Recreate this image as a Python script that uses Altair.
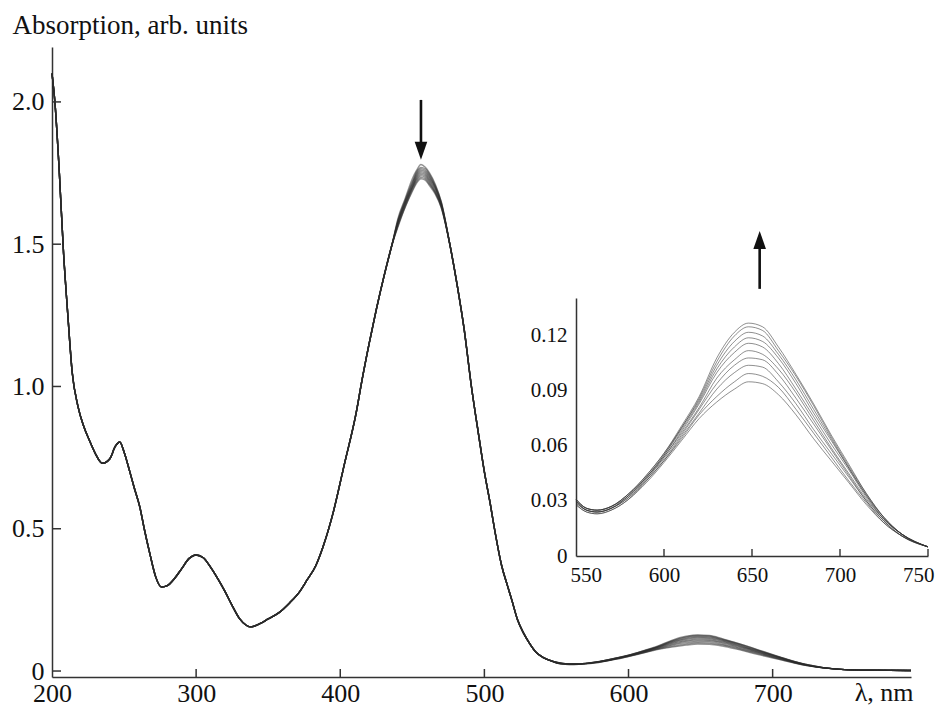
import altair as alt
import pandas as pd

# ---------------- data ----------------
# part of the spectrum where all curves coincide
wl_uv = [200, 202, 205, 208, 211, 214, 218, 222, 226, 230, 235, 240, 244, 247, 250,
         254, 257, 261, 264, 268, 272, 276, 280, 285, 290, 295, 300, 305, 310, 315, 320,
         325, 330, 335, 338, 345, 350, 358, 365, 372, 377, 383, 388, 395, 403, 411,
         415, 420, 425, 430, 436]
abs_uv = [2.10, 2.00, 1.76, 1.47, 1.25, 1.05, 0.93, 0.86, 0.81, 0.765, 0.73, 0.745, 0.79, 0.805, 0.77,
          0.70, 0.645, 0.575, 0.50, 0.41, 0.33, 0.295, 0.30, 0.325, 0.36, 0.395, 0.408, 0.398, 0.365, 0.325, 0.28,
          0.23, 0.185, 0.16, 0.155, 0.168, 0.183, 0.207, 0.24, 0.28, 0.32, 0.37, 0.436, 0.555, 0.73, 0.906,
          1.02, 1.15, 1.27, 1.38, 1.50]

wl_fall = [476, 481, 486, 491, 496, 500, 504, 507, 512, 516, 519, 523, 527, 531, 536, 541, 545]
abs_fall = [1.50, 1.36, 1.20, 1.00, 0.83, 0.70, 0.59, 0.50, 0.37, 0.30, 0.25, 0.18, 0.135, 0.10,
            0.065, 0.047, 0.038]

# main band maximum, one list per spectrum (decreasing in time)
wl_peak = [440, 445, 450, 453, 456, 459, 462, 466, 470]
peak_curves = [
    [1.590, 1.660, 1.730, 1.760, 1.780, 1.770, 1.750, 1.710, 1.650],
    [1.585, 1.655, 1.720, 1.755, 1.770, 1.765, 1.745, 1.705, 1.650],
    [1.580, 1.650, 1.715, 1.750, 1.765, 1.760, 1.740, 1.700, 1.645],
    [1.580, 1.650, 1.710, 1.745, 1.760, 1.755, 1.735, 1.700, 1.645],
    [1.575, 1.645, 1.705, 1.740, 1.755, 1.750, 1.730, 1.695, 1.640],
    [1.575, 1.640, 1.700, 1.735, 1.750, 1.745, 1.725, 1.690, 1.640],
    [1.570, 1.640, 1.700, 1.730, 1.745, 1.740, 1.720, 1.685, 1.635],
    [1.565, 1.635, 1.695, 1.725, 1.740, 1.735, 1.715, 1.680, 1.635],
    [1.565, 1.630, 1.690, 1.720, 1.735, 1.730, 1.710, 1.680, 1.630],
    [1.560, 1.630, 1.685, 1.715, 1.730, 1.725, 1.705, 1.675, 1.630],
]

# long-wavelength band, one list per spectrum (increasing in time)
wl_band = [550, 556, 562, 570, 580, 590, 600, 610, 620, 630, 640, 648, 656, 665,
           675, 685, 695, 705, 715, 725, 735, 750, 770, 796]
band_curves = [
    [.028, .024, .023, .025, .031, .040, .051, .063, .075, .084, .091, .095, .094, .088, .077, .064, .052, .040, .028, .018, .011, .005, .003, .002],
    [.028, .024, .023, .025, .031, .041, .052, .064, .077, .087, .095, .0995, .098, .092, .080, .067, .054, .041, .029, .018, .011, .005, .003, .002],
    [.029, .025, .024, .026, .032, .041, .052, .065, .078, .091, .100, .104, .103, .095, .083, .069, .056, .043, .030, .019, .011, .005, .003, .002],
    [.029, .025, .024, .026, .032, .042, .053, .066, .080, .094, .104, .108, .107, .099, .086, .072, .058, .044, .030, .019, .011, .005, .003, .002],
    [.030, .025, .024, .026, .033, .042, .054, .067, .081, .097, .107, .112, .110, .102, .089, .074, .059, .045, .031, .020, .012, .005, .003, .002],
    [.030, .025, .024, .026, .033, .043, .054, .068, .083, .100, .111, .116, .114, .105, .091, .076, .061, .047, .032, .020, .012, .005, .003, .002],
    [.030, .026, .025, .027, .033, .043, .055, .069, .084, .102, .114, .119, .117, .108, .094, .078, .063, .048, .033, .020, .012, .005, .003, .002],
    [.031, .026, .025, .027, .034, .043, .055, .070, .085, .104, .117, .122, .120, .110, .096, .080, .064, .048, .033, .021, .012, .005, .003, .002],
    [.031, .026, .025, .027, .034, .044, .056, .070, .086, .106, .120, .125, .123, .112, .098, .082, .065, .049, .034, .021, .012, .005, .003, .002],
    [.031, .026, .025, .027, .034, .044, .056, .071, .087, .108, .122, .127, .125, .114, .099, .083, .066, .050, .034, .021, .012, .005, .003, .002],
]

main_x_ticks = [200, 300, 400, 500, 600, 700]
main_y_ticks = [0, 0.5, 1.0, 1.5, 2.0]
inset_x_ticks = [550, 600, 650, 700, 750]
inset_y_ticks = [0, 0.03, 0.06, 0.09, 0.12]

# arrows (down: main band decreases, up: long-wavelength band increases)
arrow_wl = [456, 691]
arrow_start = [2.007, 1.343]
arrow_end = [1.845, 1.50]
arrow_head = [1.828, 1.515]

# ---------------- tables ----------------
rows = []
for i in range(len(band_curves)):
    for w, a in zip(wl_uv, abs_uv):
        rows.append((i, w, a))
    for w, a in zip(wl_peak, peak_curves[i]):
        rows.append((i, w, a))
    for w, a in zip(wl_fall, abs_fall):
        rows.append((i, w, a))
    for w, a in zip(wl_band, band_curves[i]):
        rows.append((i, w, a))
df_main = pd.DataFrame(rows, columns=["curve", "wl", "a"])
df_inset = df_main[(df_main.wl >= 550) & (df_main.wl <= 750)]

FONT = "Liberation Serif"
W, H = 859, 630

xs = alt.Scale(domain=[200, 796], nice=False, zero=False)
ys = alt.Scale(domain=[-0.021, 2.193], nice=False, zero=False)
ixs = alt.Scale(domain=[550, 750], range=[524, 876], nice=False, zero=False)
iys = alt.Scale(domain=[0, 0.1407], range=[509, 251], nice=False, zero=False)

ax_x = alt.Axis(
    values=main_x_ticks, ticks=False, tickSize=0, labelPadding=3, labelFontSize=26,
    labelFlush=False, title="λ, nm", titleX=861, titleY=23, titleAlign="right",
    titleBaseline="alphabetic", titleFontSize=26, titleFontWeight="normal")
ax_y = alt.Axis(
    values=main_y_ticks, ticks=False, tickSize=0, labelPadding=8, labelFontSize=26,
    labelFlush=False, labelExpr="datum.value == 0 ? '0' : format(datum.value, '.1f')",
    title="Absorption, arb. units", titleAngle=0, titleX=-40, titleY=-14,
    titleAlign="left", titleBaseline="alphabetic", titleFontSize=27,
    titleFontWeight="normal")
ax_ix = alt.Axis(
    orient="bottom", offset=-121, values=inset_x_ticks, ticks=False, tickSize=0,
    labelPadding=8, labelFontSize=21, labelFlush=True, labelFlushOffset=6, title="")
ax_iy = alt.Axis(
    orient="left", offset=-524, values=inset_y_ticks, ticks=False, tickSize=0,
    labelPadding=9, labelFontSize=21, labelFlush=False,
    labelExpr="datum.value == 0 ? '0' : format(datum.value, '.2f')", title="")

X = lambda f: alt.X(f, scale=xs, axis=ax_x)
Y = lambda f: alt.Y(f, scale=ys, axis=ax_y)

main_lines = alt.Chart(df_main).mark_line(
    color="#2a2a2a", strokeWidth=1.4, opacity=0.5, interpolate="monotone").encode(
    x=X("wl:Q"), y=Y("a:Q"), detail="curve:N")

main_xt = alt.Chart(pd.DataFrame({"wl": main_x_ticks[1:]})).mark_rule(
    color="#333", strokeWidth=1.5).encode(x=X("wl:Q"), y=alt.value(H), y2=alt.value(H - 8))
main_yt = alt.Chart(pd.DataFrame({"a": main_y_ticks})).mark_rule(
    color="#333", strokeWidth=1.5).encode(y=Y("a:Q"), x=alt.value(0), x2=alt.value(9))

adf = pd.DataFrame({"wl": arrow_wl, "a": arrow_start, "a2": arrow_end, "h": arrow_head})
shafts = alt.Chart(adf).mark_rule(color="#111", strokeWidth=2.6).encode(
    x=X("wl:Q"), y=Y("a:Q"), y2="a2:Q")
head_down = alt.Chart(adf.iloc[[0]]).mark_point(
    shape="M-0.7,-1L0.7,-1L0,1Z", filled=True, size=324, color="#111", opacity=1,
    strokeWidth=0).encode(x=X("wl:Q"), y=Y("h:Q"))
head_up = alt.Chart(adf.iloc[[1]]).mark_point(
    shape="M-0.7,1L0.7,1L0,-1Z", filled=True, size=324, color="#111", opacity=1,
    strokeWidth=0).encode(x=X("wl:Q"), y=Y("h:Q"))

main = alt.layer(main_lines, main_xt, main_yt, shafts, head_down, head_up)

inset_lines = alt.Chart(df_inset).mark_line(
    color="#333", strokeWidth=1.0, opacity=0.55, interpolate="monotone").encode(
    x=alt.X("wl:Q", scale=ixs, axis=ax_ix),
    y=alt.Y("a:Q", scale=iys, axis=ax_iy),
    detail="curve:N")
inset_xt = alt.Chart(pd.DataFrame({"wl": inset_x_ticks[1:]})).mark_rule(
    color="#333", strokeWidth=1.4).encode(
    x=alt.X("wl:Q", scale=ixs, axis=ax_ix), y=alt.value(509), y2=alt.value(502))

inset = alt.layer(inset_lines, inset_xt)

chart = alt.layer(main, inset).resolve_scale(x="independent", y="independent").properties(
    width=W, height=H,
    autosize=alt.AutoSizeParams(type="none"),
    padding={"left": 44, "top": 39, "right": 27, "bottom": 32},
).configure_axis(
    labelFont=FONT, titleFont=FONT, labelColor="#111", titleColor="#111",
    grid=False, domainColor="#333", domainWidth=1.5,
).configure_view(stroke="transparent")

chart.save("out.html", embed_options={"renderer": "svg", "actions": False})
